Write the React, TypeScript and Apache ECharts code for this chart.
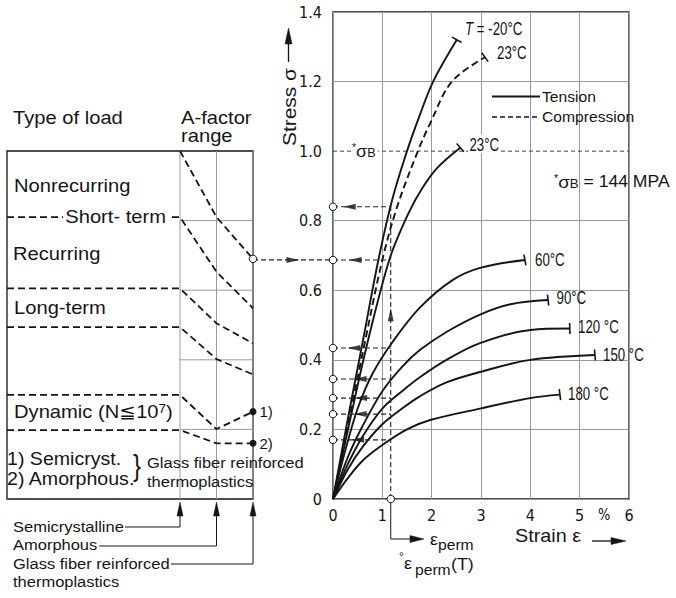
import React, { useEffect, useRef } from 'react';
import * as echarts from 'echarts';

// ---------------- data ----------------
const strainTickLabels = ['0', '1', '2', '3', '4', '5', '6'];
const stressTickLabels = ['0', '0.2', '0.4', '0.6', '0.8', '1.0', '1.2', '1.4'];
const aFactorColumns = ['Semicrystalline', 'Amorphous', 'Glass fiber reinforced thermoplastics'];
const aFactorGridLevels = [0.2, 0.4, 0.6, 0.8];

// stress ratio sigma/sigma_B versus strain (%)
const tensionMinus20: number[][] = [[0, 0], [0.3, 0.23], [0.6, 0.45], [0.92, 0.687], [1.2, 0.86], [1.5, 1.0], [1.75, 1.1], [2.03, 1.2], [2.51, 1.32]];
const compression23: number[][] = [[0, 0], [0.33, 0.23], [0.66, 0.46], [1.0, 0.687], [1.3, 0.84], [1.72, 1.0], [1.97, 1.08], [2.41, 1.2], [3.08, 1.27]];
const tension23: number[][] = [[0, 0], [0.35, 0.23], [0.7, 0.45], [1.14, 0.687], [1.46, 0.8], [1.75, 0.88], [2.1, 0.95], [2.58, 1.01]];
const tension60: number[][] = [[0, 0], [0.25, 0.14], [0.5, 0.26], [0.8, 0.36], [1.2, 0.45], [1.76, 0.55], [2.43, 0.63], [3.0, 0.665], [3.89, 0.687]];
const tension90: number[][] = [[0, 0], [0.3, 0.12], [0.6, 0.21], [1.0, 0.31], [1.4, 0.38], [1.76, 0.428], [2.3, 0.48], [2.98, 0.53], [3.6, 0.56], [4.36, 0.572]];
const tension120: number[][] = [[0, 0], [0.3, 0.1], [0.6, 0.18], [1.0, 0.26], [1.4, 0.31], [1.76, 0.35], [2.3, 0.4], [2.98, 0.448], [4.0, 0.486], [4.8, 0.49]];
const tension150: number[][] = [[0, 0], [0.3, 0.085], [0.6, 0.15], [1.0, 0.215], [1.4, 0.26], [1.76, 0.295], [2.3, 0.335], [2.98, 0.365], [4.0, 0.4], [5.31, 0.414]];
const tension180: number[][] = [[0, 0], [0.3, 0.06], [0.6, 0.11], [1.0, 0.155], [1.5, 0.2], [1.97, 0.227], [2.98, 0.26], [4.0, 0.29], [4.6, 0.3]];

const epsPerm = 1.17;
const readLevels = [0.84, 0.687, 0.434, 0.345, 0.29, 0.244, 0.17];
const readArrowStrain = [0.33, 0.45, 0.42, 0.55, 0.56, 0.55, 0.5];
const upArrowStress = 0.53;
const sigmaBLevel = 1.0;

// A-factor range lines: left level (type-of-load boundary), then semicryst / amorphous / glass fibre
const aNonrecurring = { level: null as number | null, values: [1.0, 0.81, 0.69] };
const aShortTerm = { level: 0.81 as number | null, values: [0.81, 0.653, 0.548] };
const aLongUpper = { level: 0.605 as number | null, values: [0.605, 0.505, 0.447] };
const aLongLower = { level: 0.494 as number | null, values: [0.494, 0.402, 0.358] };
const aDynSemi = { level: 0.299 as number | null, values: [0.299, 0.201, 0.251] };
const aDynAmorph = { level: 0.198 as number | null, values: [0.198, 0.16, 0.16] };

// ---------------- layout ----------------
const SANS = '"Liberation Sans", Arial, Helvetica, sans-serif';
const NARROW = '"Liberation Sans Narrow", "DejaVu Sans Condensed", "Roboto Condensed", "Liberation Sans", sans-serif';
const MAIN = { left: 333, top: 12, width: 296, height: 487 };
const AF = { left: 180, top: 151, width: 73, height: 348 };
const BOX = { left: 7, top: 151, right: 253, bottom: 499 };
const X_MAX = 6;
const Y_MAX = 1.4;
const pxPerStrain = MAIN.width / X_MAX;
const pxPerStress = MAIN.height / Y_MAX;
const pxPerColumn = AF.width / (aFactorColumns.length - 1);
const leftXMin = (BOX.left - AF.left) / pxPerColumn;
const leftXMax = (MAIN.left - AF.left) / pxPerColumn;
const lastCol = aFactorColumns.length - 1;
const INK = '#151515';
const GRID = '#9a9a9a';

function curve(name: string, pts: number[][], dashed: boolean) {
  const n = pts.length;
  const [x0, y0] = pts[n - 2];
  const [x1, y1] = pts[n - 1];
  const ang = (Math.atan2((y1 - y0) * pxPerStress, (x1 - x0) * pxPerStrain) * 180) / Math.PI;
  return {
    name,
    type: 'line',
    xAxisIndex: 0,
    yAxisIndex: 0,
    smooth: 0.35,
    symbol: 'none',
    showSymbol: true,
    lineStyle: { color: INK, width: 1.9, type: dashed ? [7, 4] : 'solid' },
    itemStyle: { color: INK },
    data: pts.map((p, i) => (i === n - 1 ? { value: p, symbol: 'rect', symbolSize: [1.6, 11], symbolRotate: ang } : p)),
    z: 4,
  };
}

const openCircle = { symbol: 'circle', symbolSize: 7.5, itemStyle: { color: '#fff', borderColor: INK, borderWidth: 1 } };

function aLine(line: { level: number | null; values: number[] }, end: any) {
  const data: any[] = [];
  if (line.level != null) data.push([leftXMin, line.level]);
  line.values.forEach((v, i) => {
    if (i === line.values.length - 1) data.push({ value: [i, v], ...end });
    else data.push([i, v]);
  });
  return {
    type: 'line',
    xAxisIndex: 1,
    yAxisIndex: 1,
    symbol: 'none',
    showSymbol: true,
    lineStyle: { color: INK, width: 1.8, type: [7, 4] },
    itemStyle: { color: INK },
    data,
    z: 4,
  };
}

function gridSeg(data: number[][]) {
  return { type: 'line', xAxisIndex: 1, yAxisIndex: 1, symbol: 'none', silent: true, lineStyle: { color: GRID, width: 1 }, data, z: 1 };
}

function txt(text: string, x: number, y: number, size: number, o: any = {}) {
  return {
    type: 'text',
    x,
    y,
    scaleX: o.sx ?? 1.12,
    rotation: o.rot ?? 0,
    z: 50,
    style: {
      text,
      fontSize: size,
      fontFamily: o.ff ?? SANS,
      fontStyle: o.italic ? 'italic' : 'normal',
      fill: INK,
      align: o.align ?? 'left',
      verticalAlign: 'middle',
      backgroundColor: o.bg,
      padding: o.pad,
      rich: o.rich,
    },
  };
}

function seg(x1: number, y1: number, x2: number, y2: number, w = 1, dash?: number[]) {
  return { type: 'line', z: 40, shape: { x1, y1, x2, y2 }, style: { stroke: INK, lineWidth: w, lineDash: dash } };
}
function poly(points: number[][], w = 1) {
  return { type: 'polyline', z: 40, shape: { points }, style: { stroke: INK, lineWidth: w, fill: 'none' } };
}
function head(points: number[][]) {
  return { type: 'polygon', z: 41, shape: { points }, style: { fill: INK, stroke: INK, lineWidth: 0.5 } };
}

function buildOption() {
  const tempSx = 0.7;
  const colX = (i: number) => AF.left + i * pxPerColumn;
  const epsX = MAIN.left + epsPerm * pxPerStrain;
  const graphic: any[] = [
    { type: 'rect', z: 1, shape: { x: BOX.left, y: BOX.top, width: BOX.right - BOX.left, height: BOX.bottom - BOX.top }, style: { fill: 'none', stroke: INK, lineWidth: 1.3 } },
    // left panel texts
    txt('Type of load', 13, 118, 18),
    txt('A-factor', 181, 117.5, 18),
    txt('range', 181, 135.5, 18),
    txt('Nonrecurring', 14, 186, 18),
    txt('Short- term', 63, 216.5, 18, { bg: '#fff', pad: [0, 2, 0, 2] }),
    txt('Recurring', 13, 253.5, 18),
    txt('Long-term', 14, 308, 18),
    txt('{a|Dynamic (N≦10}{s|7}{a|)}', 14, 411.5, 18, { rich: { a: { fontSize: 18, fontFamily: SANS }, s: { fontSize: 12, fontFamily: SANS, verticalAlign: 'top' } } }),
    txt('1) Semicryst.', 7, 458.5, 17.5),
    txt('2) Amorphous.', 7, 478.5, 17.5),
    txt('}', 137, 466, 30, { align: 'center', sx: 0.8 }),
    txt('Glass fiber reinforced', 147, 463, 15, { sx: 1.1 }),
    txt('thermoplastics', 147, 481.5, 15, { sx: 1.1 }),
    // below the box
    txt(aFactorColumns[0], 13, 526.5, 15, { sx: 1.1 }),
    txt(aFactorColumns[1], 13, 545, 15, { sx: 1.1 }),
    txt('Glass fiber reinforced', 13, 563.5, 15, { sx: 1.1 }),
    txt('thermoplastics', 13, 582, 15, { sx: 1.1 }),
    poly([[125, 527], [colX(0), 527], [colX(0), 515]]),
    head([[colX(0) - 3, 516], [colX(0) + 3, 516], [colX(0), 502]]),
    poly([[99, 546], [colX(1), 546], [colX(1), 515]]),
    head([[colX(1) - 3, 516], [colX(1) + 3, 516], [colX(1), 502]]),
    poly([[171, 564], [colX(2), 564], [colX(2), 515]]),
    head([[colX(2) - 3, 516], [colX(2) + 3, 516], [colX(2), 502]]),
    // stress axis title
    txt('Stress σ', 289, 107, 19, { align: 'center', rot: Math.PI / 2, sx: 1.1 }),
    seg(288.5, 62, 288.5, 42, 1.3),
    head([[285, 44], [292, 44], [288.5, 28]]),
    // strain axis title
    txt('Strain ε', 515, 536, 18, { sx: 1.1 }),
    seg(592, 541, 612, 541, 1.3),
    head([[611, 537.5], [611, 544.5], [626, 541]]),
    txt('%', 598, 515, 16, { sx: 0.9, ff: NARROW }),
    // eps_perm annotation
    poly([[epsX, 503], [epsX, 539], [411, 539]]),
    head([[410, 535.5], [410, 542.5], [424, 539]]),
    txt('ε', 430, 539, 17, { sx: 1.05 }),
    txt('perm', 438, 544.5, 14.5, { sx: 1.08 }),
    txt('°', 399, 557, 12, { sx: 1 }),
    txt('ε', 404, 563, 17, { sx: 1.05 }),
    txt('perm', 415, 570, 14.5, { sx: 1.08 }),
    txt('(T)', 451, 564, 17, { sx: 1.05 }),
    // temperature labels
    txt('{i|T} = -20°C', 465, 28.5, 19, { sx: tempSx, rich: { i: { fontStyle: 'italic', fontSize: 19, fontFamily: SANS } } }),
    txt('23°C', 497, 51.7, 19, { sx: tempSx }),
    txt('23°C', 468, 143.7, 19, { sx: tempSx, bg: '#fff', pad: [0, 2, 0, 2] }),
    txt('60°C', 535, 259, 19, { sx: tempSx }),
    txt('90°C', 556.5, 297.5, 19, { sx: tempSx }),
    txt('120 °C', 578, 326.3, 19, { sx: tempSx }),
    txt('150 °C', 603, 354, 19, { sx: tempSx }),
    txt('180 °C', 568, 393.3, 19, { sx: tempSx }),
    // legend
    seg(492, 96.5, 540, 96.5, 1.9),
    seg(492, 117, 540, 117, 1.7, [5, 3]),
    txt('Tension', 542, 96.7, 14.5, { sx: 1.08 }),
    txt('Compression', 542, 116.7, 14.5, { sx: 1.08 }),
    // sigma_B notes
    txt('{a|*}{b|σ}{c|B}', 351, 151, 17, { sx: 1.05, bg: '#fff', pad: [0, 2, 0, 1], rich: { a: { fontSize: 10, verticalAlign: 'top', fontFamily: SANS }, b: { fontSize: 17, fontFamily: SANS }, c: { fontSize: 12, verticalAlign: 'bottom', fontFamily: SANS } } }),
    txt('{a|*}{b|σ}{c|B}{d| = 144 MPA}', 554, 182, 16, { sx: 1.1, rich: { a: { fontSize: 10, verticalAlign: 'top', fontFamily: SANS }, b: { fontSize: 17, fontFamily: SANS }, c: { fontSize: 12, verticalAlign: 'bottom', fontFamily: SANS }, d: { fontSize: 16, fontFamily: SANS } } }),
  ];

  const dashed = { color: '#222', width: 1.1, type: [5, 3] };
  const series: any[] = [
    // A-factor grid cells
    ...aFactorColumns.map((_, i) => gridSeg([[i, 0], [i, 1]])),
    ...aFactorGridLevels.map((v) => gridSeg([[0, v], [lastCol, v]])),
    // sigma_B reference line
    { type: 'line', xAxisIndex: 0, yAxisIndex: 0, symbol: 'none', lineStyle: { color: '#444', width: 1, type: [4, 3] }, data: [[0, sigmaBLevel], [X_MAX, sigmaBLevel]], z: 2 },
    curve('Tension', tensionMinus20, false),
    curve('Compression', compression23, true),
    curve('Tension', tension23, false),
    curve('Tension', tension60, false),
    curve('Tension', tension90, false),
    curve('Tension', tension120, false),
    curve('Tension', tension150, false),
    curve('Tension', tension180, false),
    ...readLevels.map((L) => ({
      type: 'line', xAxisIndex: 0, yAxisIndex: 0, symbol: 'none', showSymbol: true, lineStyle: dashed, z: 5,
      data: [{ value: [0, L], ...openCircle }, [epsPerm, L]],
    })),
    {
      type: 'line', xAxisIndex: 0, yAxisIndex: 0, symbol: 'none', showSymbol: true, lineStyle: dashed, z: 5,
      data: [{ value: [epsPerm, 0], ...openCircle }, [epsPerm, readLevels[0]]],
    },
    {
      type: 'scatter', xAxisIndex: 0, yAxisIndex: 0, symbol: 'triangle', symbolSize: [6, 13], itemStyle: { color: INK }, z: 6,
      data: [
        ...readLevels.map((L, i) => ({ value: [readArrowStrain[i], L], symbolRotate: 90 })),
        { value: [epsPerm, upArrowStress], symbolRotate: 0 },
      ],
    },
    // link from A-factor chart to stress axis
    {
      type: 'line', xAxisIndex: 1, yAxisIndex: 1, symbol: 'none', lineStyle: dashed, z: 3,
      data: [[lastCol, readLevels[1]], [leftXMax, readLevels[1]]],
    },
    {
      type: 'scatter', xAxisIndex: 1, yAxisIndex: 1, symbol: 'triangle', symbolSize: [6, 13], itemStyle: { color: INK }, z: 6,
      data: [{ value: [(lastCol + leftXMax) / 2, readLevels[1]], symbolRotate: -90 }],
    },
    aLine(aNonrecurring, openCircle),
    aLine(aShortTerm, {}),
    aLine(aLongUpper, {}),
    aLine(aLongLower, {}),
    aLine(aDynSemi, { symbol: 'circle', symbolSize: 7, label: { show: true, formatter: '1)', position: 'right', distance: 3, fontSize: 15, fontFamily: SANS, color: INK } }),
    aLine(aDynAmorph, { symbol: 'circle', symbolSize: 7, label: { show: true, formatter: '2)', position: 'right', distance: 3, fontSize: 15, fontFamily: SANS, color: INK } }),
  ];

  const splitColors = stressTickLabels.map((_, i) => (i === 5 ? 'transparent' : GRID));

  return {
    animation: false,
    backgroundColor: '#fff',
    textStyle: { fontFamily: SANS },
    grid: [
      { left: MAIN.left, top: MAIN.top, width: MAIN.width, height: MAIN.height, show: true, borderColor: INK, borderWidth: 1.3, backgroundColor: 'transparent' },
      { left: BOX.left, top: AF.top, width: MAIN.left - BOX.left, height: AF.height, show: false },
    ],
    xAxis: [
      {
        type: 'value', gridIndex: 0, min: 0, max: X_MAX, interval: 1,
        axisLine: { show: false }, axisTick: { show: false },
        axisLabel: { margin: 8, fontSize: 16, fontFamily: NARROW, color: INK, formatter: (_v: number, i: number) => strainTickLabels[i] },
        splitLine: { show: true, lineStyle: { color: GRID, width: 1 } },
      },
      {
        type: 'value', gridIndex: 1, min: leftXMin, max: leftXMax,
        axisLine: { show: false }, axisTick: { show: false }, axisLabel: { show: false }, splitLine: { show: false },
      },
    ],
    yAxis: [
      {
        type: 'value', gridIndex: 0, min: 0, max: Y_MAX, interval: 0.2,
        axisLine: { show: false }, axisTick: { show: false },
        axisLabel: { margin: 11, fontSize: 16, fontFamily: NARROW, color: INK, formatter: (_v: number, i: number) => stressTickLabels[i] },
        splitLine: { show: true, lineStyle: { color: splitColors, width: 1 } },
      },
      {
        type: 'value', gridIndex: 1, min: 0, max: 1,
        axisLine: { show: false }, axisTick: { show: false }, axisLabel: { show: false }, splitLine: { show: false },
      },
    ],
    series,
    graphic,
  };
}

export default function App() {
  const ref = useRef<HTMLDivElement>(null);
  useEffect(() => {
    const chart = echarts.init(ref.current!, null, { renderer: 'svg' });
    chart.setOption(buildOption() as any);
    return () => chart.dispose();
  }, []);
  return <div ref={ref} style={{ position: 'absolute', left: 0, top: 0, width: 676, height: 598, background: '#fff' }} />;
}
